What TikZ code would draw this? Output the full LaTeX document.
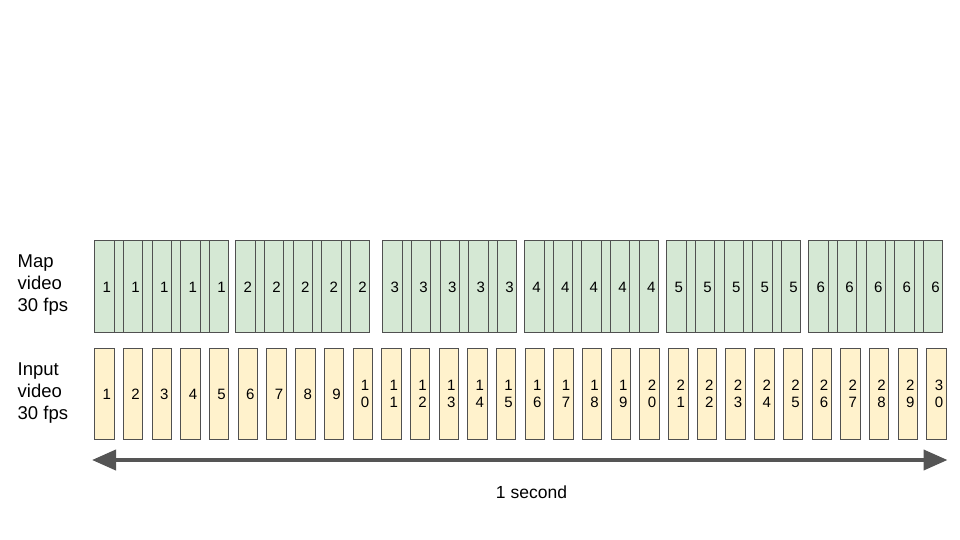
\documentclass[tikz,border=0pt]{standalone}
\usepackage{fontspec}
\setmainfont{Liberation Sans}
\usetikzlibrary{arrows.meta,calc}
\definecolor{mapfill}{HTML}{D5E8D4}
\definecolor{infill}{HTML}{FFF2CC}
\definecolor{edgec}{HTML}{505050}
\definecolor{arrowc}{HTML}{555555}
\begin{document}
\begin{tikzpicture}[x=1pt,y=-1pt,
  mapgroup/.style={draw=edgec, fill=mapfill, line width=1.1pt, inner sep=0pt, minimum width=134pt, minimum height=91.7pt, anchor=north west},
  mapframe/.style={draw=edgec, line width=0.9pt, inner sep=0pt, minimum width=19.5pt, minimum height=91.7pt, anchor=north west},
  inframe/.style={draw=edgec, fill=infill, line width=1pt, inner sep=0pt, minimum width=19.4pt, minimum height=91pt, anchor=north west},
  digit/.style={inner sep=0pt, align=center, font=\fontsize{15}{17.5}\selectfont},
  lab/.style={inner sep=0pt, align=left, anchor=west, font=\fontsize{18.5}{22}\selectfont},
  timeline/.style={line width=4pt, draw=arrowc, {Triangle[length=24pt,width=20pt]}-{Triangle[length=24pt,width=20pt]}}
]
\useasboundingbox (0,0) rectangle (960,540);

% labels
\node[lab] (maplab) at (17.5,285) {Map\\video\\30 fps};
\node[lab] (inlab) at (17.5,393.5) {Input\\video\\30 fps};

% map video groups
\foreach \g/\s in {1/94.3,2/235.3,3/382.3,4/524,5/666.3,6/808.3} {
  \node[mapgroup] (m\g) at (\s,240.3) {};
  \foreach \k in {0,...,4} {
    \node[mapframe] (m\g-\k) at ({\s+\k*28.65},240.3) {};
    \node[digit] (md\g-\k) at ({\s+\k*28.65+12.6},287) {\g};
  }
}

% input video frames
\foreach \i/\t in {1/1,2/2,3/3,4/4,5/5,6/6,7/7,8/8,9/9,
  10/{1\\0},11/{1\\1},12/{1\\2},13/{1\\3},14/{1\\4},15/{1\\5},16/{1\\6},17/{1\\7},18/{1\\8},19/{1\\9},
  20/{2\\0},21/{2\\1},22/{2\\2},23/{2\\3},24/{2\\4},25/{2\\5},26/{2\\6},27/{2\\7},28/{2\\8},29/{2\\9},30/{3\\0}} {
  \node[inframe] (f\i) at ({94.3+(\i-1)*28.69},348.3) {};
  \node[digit] (fd\i) at ({94.3+(\i-1)*28.69+12.6},394) {\t};
}

% time axis
\coordinate (aL) at (92,460);
\coordinate (aR) at (947.5,460);
\draw[timeline] (aL) -- (aR);
\node[inner sep=0pt, font=\fontsize{17.5}{20}\selectfont] (sec) at (531.5,492) {1 second};
\end{tikzpicture}
\end{document}
